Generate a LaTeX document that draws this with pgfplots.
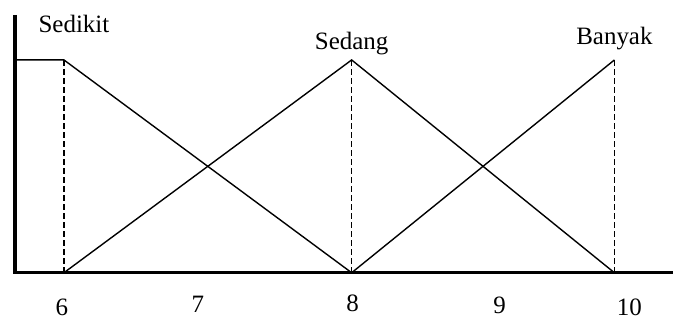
\documentclass[border=0pt]{standalone}
\usepackage{fontspec}
\setmainfont{Liberation Serif}
\usepackage{pgfplots}
\pgfplotsset{compat=1.18}
\tikzset{lbl/.style={font=\fontsize{25bp}{28bp}\selectfont, inner sep=0pt}}
\begin{document}
\begin{tikzpicture}
\begin{axis}[
  scale only axis, width=675bp, height=320bp,
  xmin=0, xmax=675,
  ymin=-0.22066, ymax=1.28169,
  axis line style={draw=none},
  xtick=\empty, ytick=\empty,
  clip=false,
]
% axes
\draw[line width=3.3bp] (axis cs:15,1.2113) -- (axis cs:15,0) -- (axis cs:674,0);
% membership functions
\addplot[black, line width=1.4bp] coordinates {(15,1) (64,1) (352,0)};
\addplot[black, line width=1.4bp] coordinates {(64,0) (352,1) (615,0)};
\addplot[black, line width=1.4bp] coordinates {(352,0) (615,1)};
% dashed verticals
\addplot[black, line width=1.4bp, dash pattern=on 5.5bp off 3.5bp] coordinates {(64,0) (64,1)};
\addplot[black, line width=1.4bp, dash pattern=on 5.5bp off 3.5bp] coordinates {(352,0) (352,1)};
\addplot[black, line width=1.4bp, dash pattern=on 5.5bp off 3.5bp] coordinates {(615,0) (615,1)};
% labels
\node[lbl] at (axis cs:74,1.169) {Sedikit};
\node[lbl] at (axis cs:352,1.075) {Sedang};
\node[lbl] at (axis cs:615,1.099) {Banyak};
\node[lbl] at (axis cs:62,-0.164) {6};
\node[lbl] at (axis cs:198,-0.150) {7};
\node[lbl] at (axis cs:353,-0.146) {8};
\node[lbl] at (axis cs:500,-0.155) {9};
\node[lbl] at (axis cs:630,-0.164) {10};
\end{axis}
\end{tikzpicture}
\end{document}
